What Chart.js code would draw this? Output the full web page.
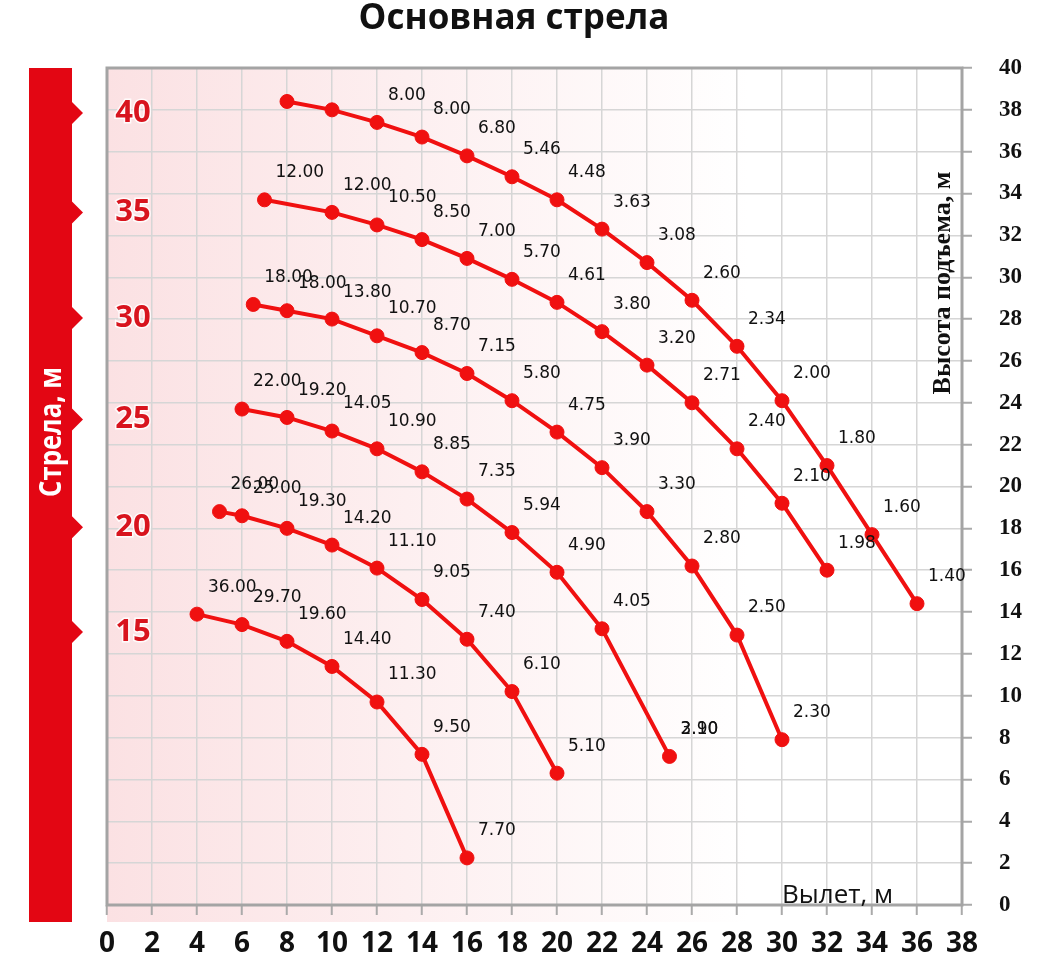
<!DOCTYPE html>
<html lang="ru">
<head>
<meta charset="utf-8">
<title>Основная стрела</title>
<script src="https://cdn.jsdelivr.net/npm/chart.js@4.4.1/dist/chart.umd.min.js"></script>
<style>
  html, body { margin: 0; padding: 0; background: #fff; }
  #wrap { width: 1046px; height: 975px; }
</style>
</head>
<body>
<div id="wrap"><canvas id="chart-strela" width="1046" height="975"></canvas></div>
<script>
// Длина стрелы, м
const booms = [40, 35, 30, 25, 20, 15];

// Вылет (м), высота подъема (м), грузоподъемность (т)
const reach40 = [8, 10, 12, 14, 16, 18, 20, 22, 24, 26, 28, 30, 32, 34, 36];
const height40 = [38.4, 38.0, 37.4, 36.7, 35.8, 34.8, 33.7, 32.3, 30.7, 28.9, 26.7, 24.1, 21.0, 17.7, 14.4];
const load40 = [null, null, '8.00', '8.00', '6.80', '5.46', '4.48', '3.63', '3.08', '2.60', '2.34', '2.00', '1.80', '1.60', '1.40'];

const reach35 = [7, 10, 12, 14, 16, 18, 20, 22, 24, 26, 28, 30, 32];
const height35 = [33.7, 33.1, 32.5, 31.8, 30.9, 29.9, 28.8, 27.4, 25.8, 24.0, 21.8, 19.2, 16.0];
const load35 = ['12.00', '12.00', '10.50', '8.50', '7.00', '5.70', '4.61', '3.80', '3.20', '2.71', '2.40', '2.10', '1.98'];

const reach30 = [6.5, 8, 10, 12, 14, 16, 18, 20, 22, 24, 26, 28, 30];
const height30 = [28.7, 28.4, 28.0, 27.2, 26.4, 25.4, 24.1, 22.6, 20.9, 18.8, 16.2, 12.9, 7.9];
const load30 = ['18.00', '18.00', '13.80', '10.70', '8.70', '7.15', '5.80', '4.75', '3.90', '3.30', '2.80', '2.50', '2.30'];

const reach25 = [6, 8, 10, 12, 14, 16, 18, 20, 22, 25];
const height25 = [23.7, 23.3, 22.65, 21.8, 20.7, 19.4, 17.8, 15.9, 13.2, 7.1];
const load25 = ['22.00', '19.20', '14.05', '10.90', '8.85', '7.35', '5.94', '4.90', '4.05', ['2.90', '3.10']];

const reach20 = [5, 6, 8, 10, 12, 14, 16, 18, 20];
const height20 = [18.8, 18.6, 18.0, 17.2, 16.1, 14.6, 12.7, 10.2, 6.3];
const load20 = ['26.00', '25.00', '19.30', '14.20', '11.10', '9.05', '7.40', '6.10', '5.10'];

const reach15 = [4, 6, 8, 10, 12, 14, 16];
const height15 = [13.9, 13.4, 12.6, 11.4, 9.7, 7.2, 2.25];
const load15 = ['36.00', '29.70', '19.60', '14.40', '11.30', '9.50', '7.70'];

const series = [
  [reach40, height40, load40],
  [reach35, height35, load35],
  [reach30, height30, load30],
  [reach25, height25, load25],
  [reach20, height20, load20],
  [reach15, height15, load15]
];

const ROJO = '#f01010';
const BANDA = '#e30613';
// высота (по оси Y) меток стрелы на красной полосе
const marcasBoom = [37.85, 33.1, 28.05, 23.2, 18.05, 13.05];

const fondo = {
  id: 'fondo',
  beforeDraw(chart) {
    const { ctx, chartArea: a, scales: { y } } = chart;
    ctx.save();
    ctx.fillStyle = '#fff';
    ctx.fillRect(0, 0, chart.width, chart.height);
    const g = ctx.createLinearGradient(a.left, 0, a.right, 0);
    g.addColorStop(0, '#fbe1e3');
    g.addColorStop(0.35, '#fdeff0');
    g.addColorStop(0.75, '#ffffff');
    ctx.fillStyle = g;
    ctx.fillRect(a.left, a.top, a.right - a.left, a.bottom - a.top + 17);

    // красная полоса слева
    ctx.fillStyle = BANDA;
    ctx.fillRect(29, a.top, 43, a.bottom + 17 - a.top);
    marcasBoom.forEach(v => {
      const py = y.getPixelForValue(v);
      ctx.beginPath();
      ctx.moveTo(71, py - 12);
      ctx.lineTo(83, py);
      ctx.lineTo(71, py + 12);
      ctx.closePath();
      ctx.fill();
    });
    ctx.translate(52, 432);
    ctx.rotate(-Math.PI / 2);
    ctx.font = 'bold 30px "Open Sans"';
    ctx.fillStyle = '#fff';
    ctx.textAlign = 'center';
    ctx.textBaseline = 'middle';
    const w = ctx.measureText('Стрела, м').width;
    ctx.scale(130 / w, 1);
    ctx.fillText('Стрела, м', 0, 0);
    ctx.restore();

    // заголовок
    ctx.save();
    ctx.font = 'bold 35px "Open Sans"';
    ctx.fillStyle = '#111';
    ctx.textAlign = 'center';
    ctx.textBaseline = 'alphabetic';
    ctx.fillText('Основная стрела', 514, 29);
    ctx.restore();
  },
  beforeDatasetsDraw(chart) {
    const { ctx, chartArea: a, scales: { y } } = chart;
    ctx.save();
    ctx.strokeStyle = '#a4a4a4';
    ctx.lineWidth = 3;
    ctx.strokeRect(a.left, a.top, a.right - a.left, a.bottom - a.top);

    // метки длины стрелы
    ctx.font = 'bold 31px "Open Sans"';
    ctx.textAlign = 'center';
    ctx.textBaseline = 'middle';
    ctx.lineWidth = 3;
    ctx.strokeStyle = 'rgba(255,255,255,0.85)';
    ctx.fillStyle = '#d8141e';
    booms.forEach((b, i) => {
      const py = y.getPixelForValue(marcasBoom[i]);
      ctx.strokeText(String(b), 133, py);
      ctx.fillText(String(b), 133, py);
    });

    // подписи осей
    ctx.fillStyle = '#111';
    ctx.font = '26px "Open Sans"';
    ctx.textAlign = 'left';
    ctx.textBaseline = 'alphabetic';
    ctx.fillText('Вылет, м', 782, a.bottom - 2);

    ctx.translate(a.right - 19, 283);
    ctx.rotate(-Math.PI / 2);
    ctx.font = 'bold 26px "Liberation Serif"';
    ctx.textAlign = 'center';
    ctx.textBaseline = 'middle';
    ctx.fillText('Высота подъема, м', 0, 0);
    ctx.restore();
  },
  afterDatasetsDraw(chart) {
    const ctx = chart.ctx;
    ctx.save();
    ctx.font = '17px "DejaVu Sans"';
    ctx.fillStyle = '#111';
    ctx.textAlign = 'left';
    ctx.textBaseline = 'middle';
    chart.data.datasets.forEach((ds, i) => {
      chart.getDatasetMeta(i).data.forEach((pt, j) => {
        const t = ds.loads[j];
        if (!t) return;
        [].concat(t).forEach(s => ctx.fillText(s, pt.x + 11, pt.y - 27));
      });
    });
    ctx.restore();
  }
};

const datasets = series.map((s, i) => ({
  label: 'Стрела ' + booms[i] + ' м',
  data: s[0].map((x, j) => ({ x, y: s[1][j] })),
  loads: s[2],
  borderColor: ROJO,
  backgroundColor: ROJO,
  borderWidth: 4,
  pointRadius: 7,
  pointBorderWidth: 1,
  pointBackgroundColor: ROJO,
  pointBorderColor: ROJO,
  tension: 0
}));

new Chart(document.getElementById('chart-strela'), {
  type: 'line',
  data: { datasets },
  options: {
    responsive: false,
    animation: false,
    devicePixelRatio: 1,
    layout: { padding: { left: 107, top: 68, right: 0, bottom: 0 } },
    plugins: { legend: { display: false }, tooltip: { enabled: false } },
    scales: {
      x: {
        type: 'linear',
        min: 0, max: 38,
        afterFit(scale) { scale.height = 70; },
        ticks: { stepSize: 2, color: '#111', padding: 12, font: { family: 'Open Sans', size: 28, weight: 'bold' } },
        grid: { color: '#d6d6d6', lineWidth: 1.5, tickLength: 10, tickColor: '#aaa', tickWidth: 2 },
        border: { display: false }
      },
      y: {
        position: 'right',
        min: 0, max: 40,
        afterFit(scale) { scale.width = 84; },
        ticks: { stepSize: 2, color: '#111', padding: 27, font: { family: 'Liberation Serif', size: 23, weight: 'bold' } },
        grid: { color: '#d6d6d6', lineWidth: 1.5, tickLength: 10, tickColor: '#aaa', tickWidth: 2 },
        border: { display: false }
      }
    }
  },
  plugins: [fondo]
});
</script>
</body>
</html>
